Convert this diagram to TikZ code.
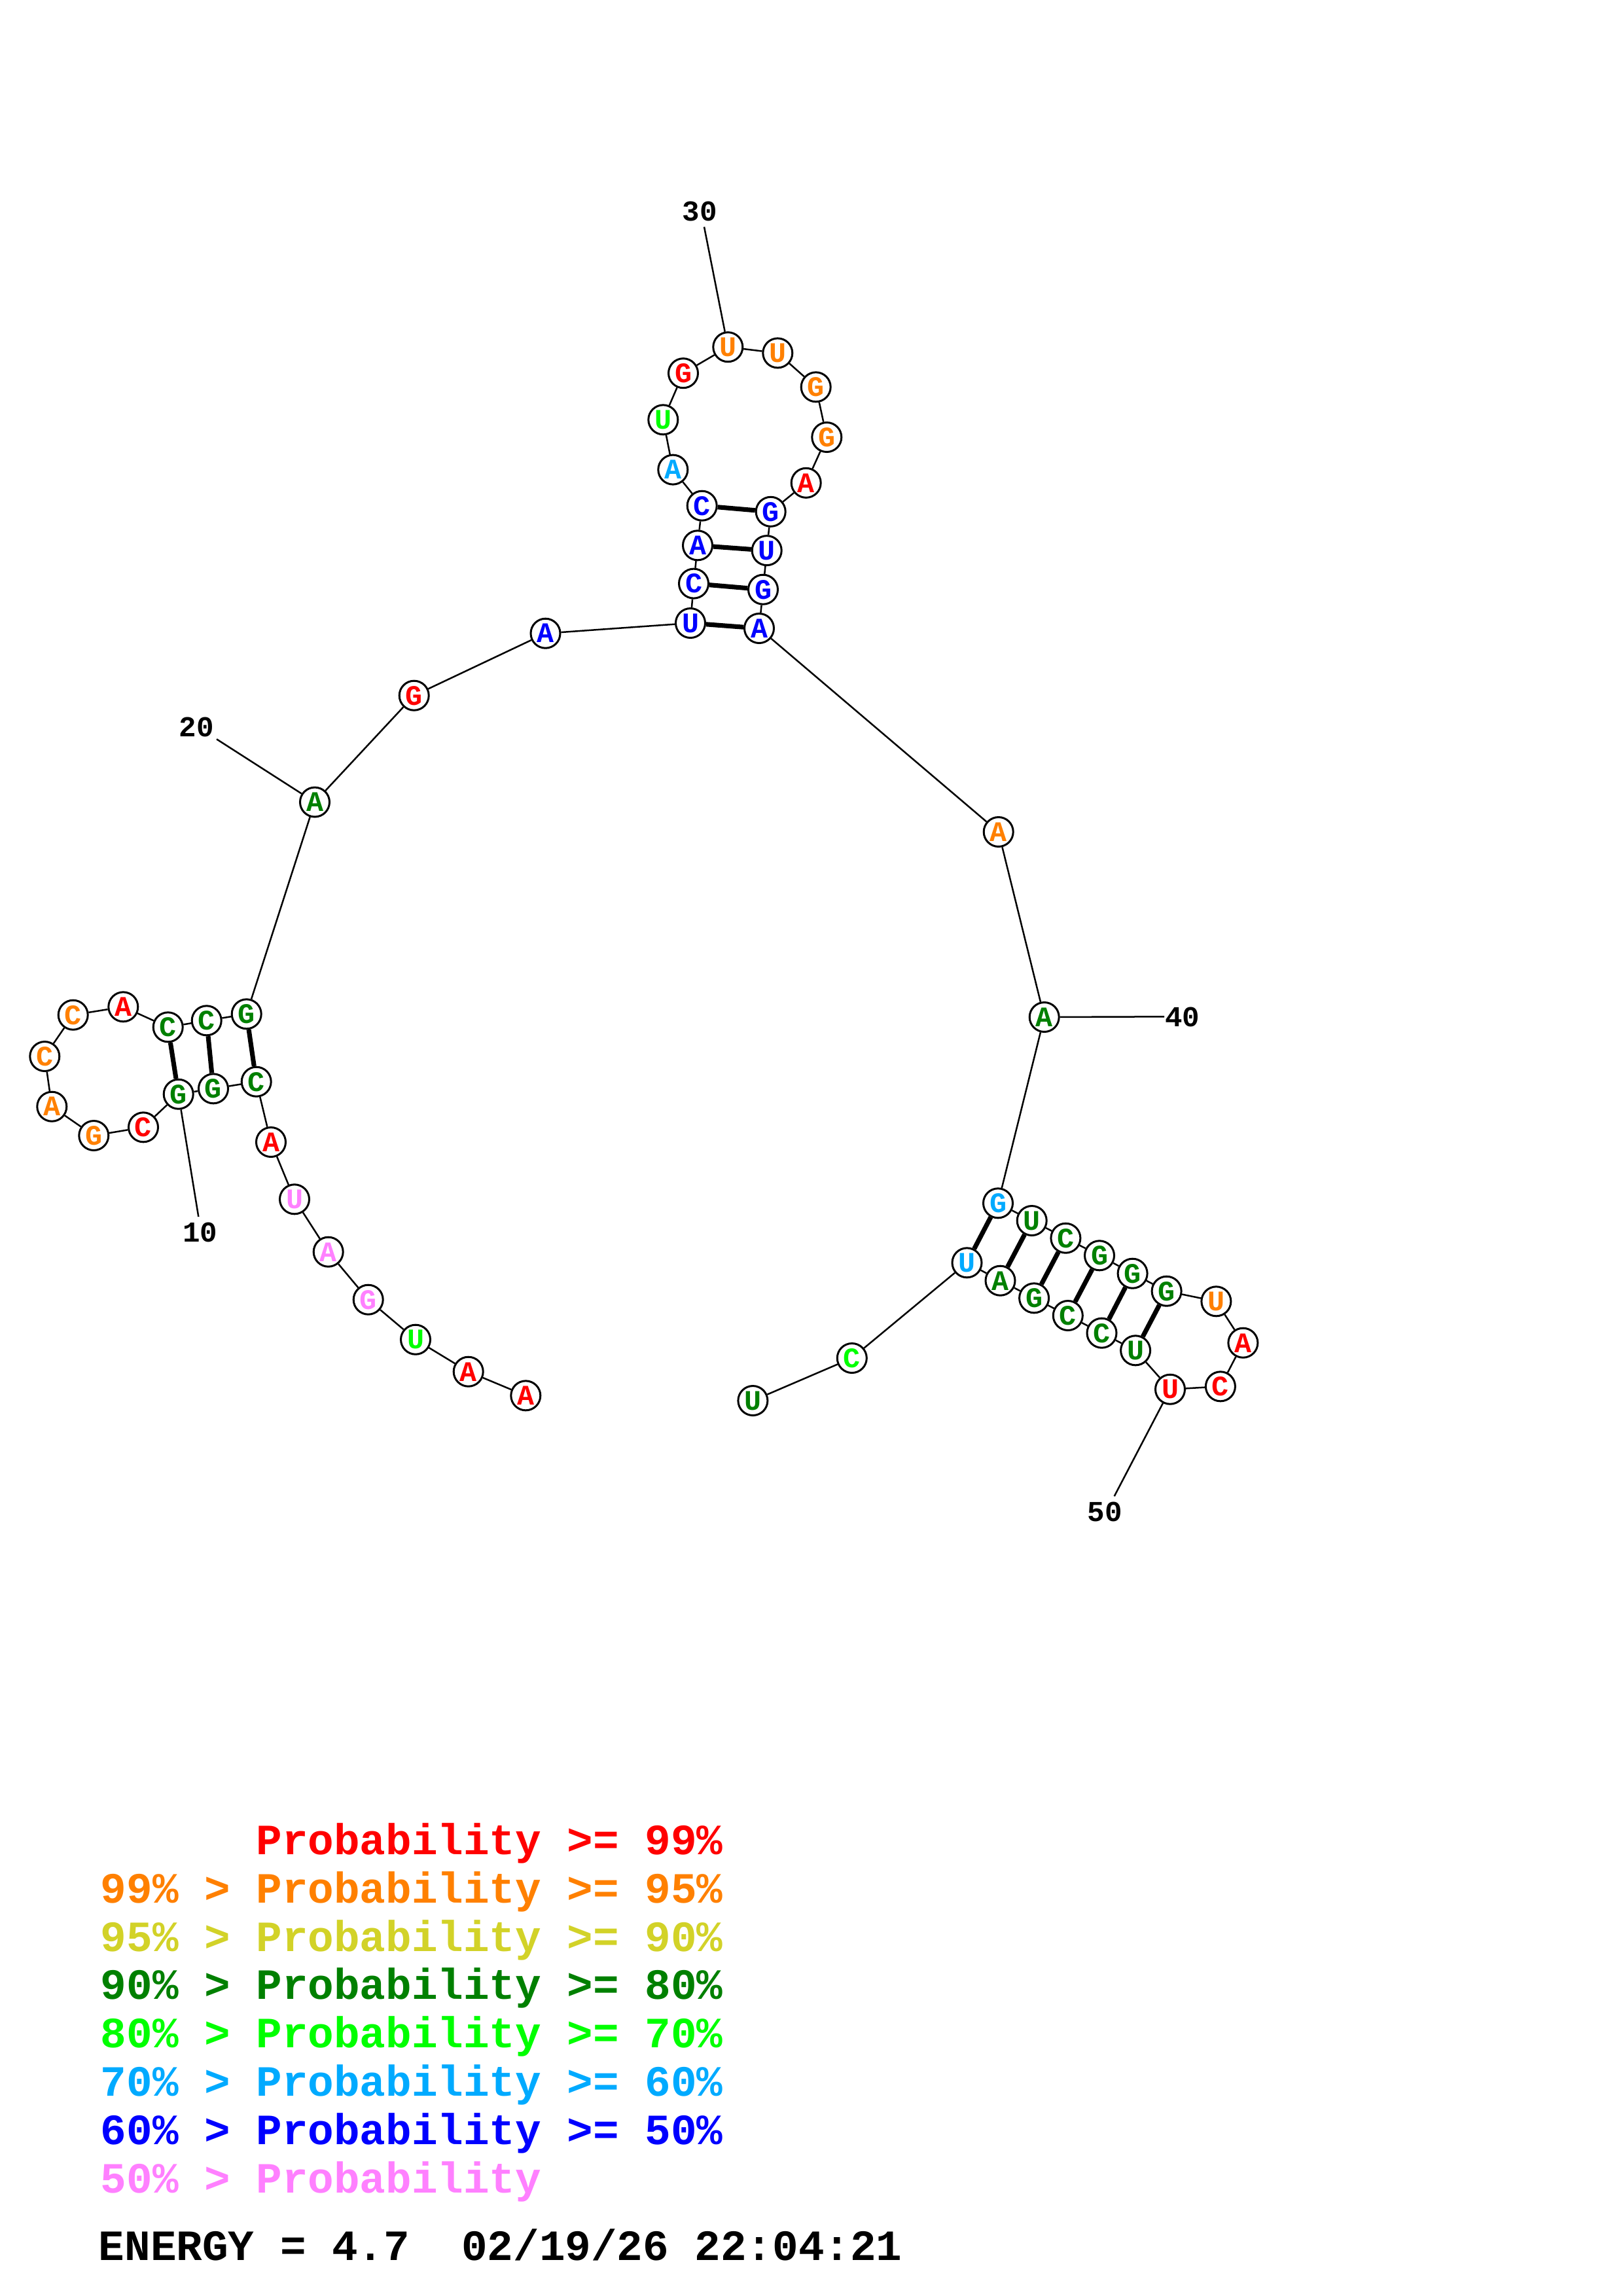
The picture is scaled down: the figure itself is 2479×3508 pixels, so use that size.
\documentclass[tikz,border=0pt]{standalone}
\usepackage{fontspec}
\newfontfamily\cour{Liberation Mono}
\definecolor{cRed}{RGB}{255,0,0}
\definecolor{cOrange}{RGB}{255,128,0}
\definecolor{cYellow}{RGB}{210,210,40}
\definecolor{cDGreen}{RGB}{0,128,0}
\definecolor{cLime}{RGB}{0,255,0}
\definecolor{cLBlue}{RGB}{0,170,255}
\definecolor{cBlue}{RGB}{0,0,255}
\definecolor{cPink}{RGB}{255,128,255}
\tikzset{
  nt/.style={circle, draw=black, fill=white, line width=0.72bp, minimum size=10.8bp, inner sep=0pt,
    font=\cour\bfseries\fontsize{10.4bp}{10.4bp}\selectfont},
  bb/.style={line width=0.6bp, black},
  pr/.style={line width=1.7bp, black},
  numlbl/.style={anchor=base, inner sep=0pt, font=\cour\bfseries\fontsize{10.6bp}{10.6bp}\selectfont},
  legend/.style={anchor=base west, inner sep=0pt, font=\cour\bfseries\fontsize{15.84bp}{15.84bp}\selectfont},
}
\begin{document}
\begin{tikzpicture}[x=0.24bp,y=-0.24bp]
\useasboundingbox (0,0) rectangle (2479,3508);
\fill[white] (0,0) rectangle (2479,3508);
% nucleotides
\node[nt,text=cRed]    (n1)  at (803.3,2132.3) {A};
\node[nt,text=cRed]    (n2)  at (715.7,2095.7) {A};
\node[nt,text=cLime]   (n3)  at (635.0,2046.7) {U};
\node[nt,text=cPink]   (n4)  at (562.7,1985.7) {G};
\node[nt,text=cPink]   (n5)  at (501.7,1912.7) {A};
\node[nt,text=cPink]   (n6)  at (450.0,1832.3) {U};
\node[nt,text=cRed]    (n7)  at (414.0,1745.0) {A};
\node[nt,text=cDGreen] (n8)  at (391.7,1652.7) {C};
\node[nt,text=cDGreen] (n9)  at (326.0,1663.3) {G};
\node[nt,text=cDGreen] (n10) at (272.7,1671.7) {G};
\node[nt,text=cRed]    (n11) at (219.0,1722.3) {C};
\node[nt,text=cOrange] (n12) at (143.3,1735.0) {G};
\node[nt,text=cOrange] (n13) at (79.3,1690.7) {A};
\node[nt,text=cOrange] (n14) at (68.3,1614.0) {C};
\node[nt,text=cOrange] (n15) at (111.7,1550.7) {C};
\node[nt,text=cRed]    (n16) at (188.3,1538.3) {A};
\node[nt,text=cDGreen] (n17) at (256.7,1569.3) {C};
\node[nt,text=cDGreen] (n18) at (315.7,1559.3) {C};
\node[nt,text=cDGreen] (n19) at (376.7,1549.3) {G};
\node[nt,text=cDGreen] (n20) at (481.0,1225.5) {A};
\node[nt,text=cRed]    (n21) at (632.7,1062.7) {G};
\node[nt,text=cBlue]   (n22) at (833.5,967.7) {A};
\node[nt,text=cBlue]   (n23) at (1055.0,952.0) {U};
\node[nt,text=cBlue]   (n24) at (1060.0,891.6) {C};
\node[nt,text=cBlue]   (n25) at (1066.0,833.3) {A};
\node[nt,text=cBlue]   (n26) at (1072.7,772.7) {C};
\node[nt,text=cLBlue]  (n27) at (1028.3,717.6) {A};
\node[nt,text=cLime]   (n28) at (1013.3,641.3) {U};
\node[nt,text=cRed]    (n29) at (1044.0,570.2) {G};
\node[nt,text=cOrange] (n30) at (1112.3,530.2) {U};
\node[nt,text=cOrange] (n31) at (1188.3,539.4) {U};
\node[nt,text=cOrange] (n32) at (1246.7,591.3) {G};
\node[nt,text=cOrange] (n33) at (1263.3,668.0) {G};
\node[nt,text=cRed]    (n34) at (1231.7,737.8) {A};
\node[nt,text=cBlue]   (n35) at (1177.7,781.8) {G};
\node[nt,text=cBlue]   (n36) at (1171.7,841.1) {U};
\node[nt,text=cBlue]   (n37) at (1166.0,900.7) {G};
\node[nt,text=cBlue]   (n38) at (1160.0,960.0) {A};
\node[nt,text=cOrange] (n39) at (1525.7,1271.0) {A};
\node[nt,text=cDGreen] (n40) at (1595.7,1554.0) {A};
\node[nt,text=cLBlue]  (n41) at (1525.0,1838.3) {G};
\node[nt,text=cDGreen] (n42) at (1576.7,1865.0) {U};
\node[nt,text=cDGreen] (n43) at (1628.4,1891.7) {C};
\node[nt,text=cDGreen] (n44) at (1680.0,1918.3) {G};
\node[nt,text=cDGreen] (n45) at (1730.6,1945.7) {G};
\node[nt,text=cDGreen] (n46) at (1782.6,1972.7) {G};
\node[nt,text=cOrange] (n47) at (1858.4,1988.3) {U};
\node[nt,text=cRed]    (n48) at (1899.4,2051.7) {A};
\node[nt,text=cRed]    (n49) at (1864.9,2118.3) {C};
\node[nt,text=cRed]    (n50) at (1788.0,2122.7) {U};
\node[nt,text=cDGreen] (n51) at (1735.1,2063.3) {U};
\node[nt,text=cDGreen] (n52) at (1683.5,2036.7) {C};
\node[nt,text=cDGreen] (n53) at (1631.8,2010.0) {C};
\node[nt,text=cDGreen] (n54) at (1580.1,1983.3) {G};
\node[nt,text=cDGreen] (n55) at (1528.5,1956.7) {A};
\node[nt,text=cLBlue]  (n56) at (1477.5,1929.3) {U};
\node[nt,text=cLime]   (n57) at (1301.8,2075.0) {C};
\node[nt,text=cDGreen] (n58) at (1150.4,2140.0) {U};
% backbone
\foreach \a/\b in {1/2,2/3,3/4,4/5,5/6,6/7,7/8,8/9,9/10,10/11,11/12,12/13,13/14,14/15,15/16,16/17,17/18,18/19,19/20,
  20/21,21/22,22/23,23/24,24/25,25/26,26/27,27/28,28/29,29/30,30/31,31/32,32/33,33/34,34/35,35/36,36/37,37/38,38/39,39/40,
  40/41,41/42,42/43,43/44,44/45,45/46,46/47,47/48,48/49,49/50,50/51,51/52,52/53,53/54,54/55,55/56,56/57,57/58}
  \draw[bb] (n\a) -- (n\b);
% base pairs
\foreach \a/\b in {8/19,9/18,10/17,23/38,24/37,25/36,26/35,41/56,42/55,43/54,44/53,45/52,46/51}
  \draw[pr] (n\a) -- (n\b);
% position labels
\coordinate (c10) at (303.3,1859);
\coordinate (c20) at (331,1129.3);
\coordinate (c30) at (1076,346.6);
\coordinate (c40) at (1779,1553.3);
\coordinate (c50) at (1702.7,2286);
\draw[bb] (c10) -- (n10);
\draw[bb] (c20) -- (n20);
\draw[bb] (c30) -- (n30);
\draw[bb] (c40) -- (n40);
\draw[bb] (c50) -- (n50);
\node[numlbl] (t10) at (306,1897) {10};
\node[numlbl] (t20) at (300.5,1125.7) {20};
\node[numlbl] (t30) at (1069.3,337.4) {30};
\node[numlbl] (t40) at (1806.7,1568.3) {40};
\node[numlbl] (t50) at (1688.4,2324) {50};
% legend
\node[legend,text=cRed]    (lg1) at (390.6,2833) {Probability >= 99\%};
\node[legend,text=cOrange] (lg2) at (153,2907) {99\% > Probability >= 95\%};
\node[legend,text=cYellow] (lg3) at (153,2981) {95\% > Probability >= 90\%};
\node[legend,text=cDGreen] (lg4) at (153,3054) {90\% > Probability >= 80\%};
\node[legend,text=cLime]   (lg5) at (153,3128) {80\% > Probability >= 70\%};
\node[legend,text=cLBlue]  (lg6) at (153,3202) {70\% > Probability >= 60\%};
\node[legend,text=cBlue]   (lg7) at (153,3276) {60\% > Probability >= 50\%};
\node[legend,text=cPink]   (lg8) at (153,3350) {50\% > Probability};
\node[legend,text=black]   (lg9) at (150,3453) {ENERGY = 4.7~~02/19/26 22:04:21};
\end{tikzpicture}
\end{document}
